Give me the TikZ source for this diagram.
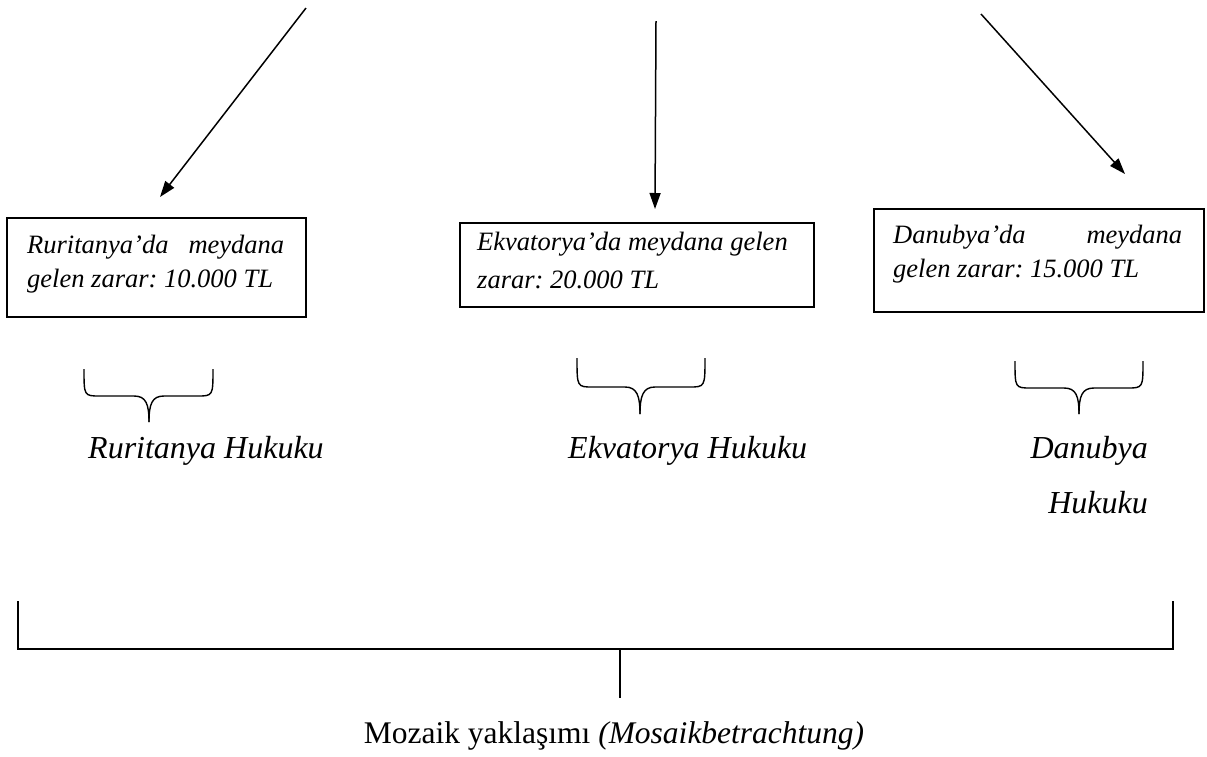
\documentclass[tikz,border=0pt]{standalone}
\usepackage{fontspec}
\setmainfont{Liberation Serif}
\usetikzlibrary{arrows.meta}
\frenchspacing
\begin{document}
\begin{tikzpicture}[x=1pt,y=-1pt,
  arr/.style={line width=1.5pt,-{Triangle[length=16pt,width=11pt]}},
  boxframe/.style={draw,line width=1.8pt,inner sep=0pt,anchor=north west},
  boxtxt/.style={inner sep=0pt,anchor=base west,font=\fontsize{26.5}{34}\selectfont\itshape\frenchspacing},
  lbl/.style={inner sep=0pt,font=\fontsize{32}{40}\selectfont\itshape},
  brc/.style={line width=1.4pt},
  brk/.style={line width=1.8pt}]
\useasboundingbox (0,0) rectangle (1207,756);
% arrows
\coordinate (a1s) at (306,8);   \coordinate (a1e) at (160,197);
\coordinate (a2s) at (656,21);  \coordinate (a2e) at (655,209);
\coordinate (a3s) at (981,14);  \coordinate (a3e) at (1125,174);
\draw[arr] (a1s) -- (a1e);
\draw[arr] (a2s) -- (a2e);
\draw[arr] (a3s) -- (a3e);
% boxes
\node[boxframe,minimum width=299pt,minimum height=99pt] (b1) at (6,217) {};
\node[boxtxt] (b1l1) at (27,253) {\makebox[257pt][s]{Ruritanya’da meydana}};
\node[boxtxt] (b1l2) at (27,287) {gelen zarar: 10.000 TL};
\node[boxframe,minimum width=354pt,minimum height=84pt] (b2) at (459,222) {};
\node[boxtxt] (b2l1) at (477,250) {Ekvatorya’da meydana gelen};
\node[boxtxt] (b2l2) at (477,288) {zarar: 20.000 TL};
\node[boxframe,minimum width=330pt,minimum height=103pt] (b3) at (873,208) {};
\node[boxtxt] (b3l1) at (893,243) {\makebox[289pt][s]{Danubya’da meydana}};
\node[boxtxt] (b3l2) at (893,277) {gelen zarar: 15.000 TL};
% braces
\draw[brc] (84,369) .. controls (84,396) .. (100,396) -- (134,396) .. controls (146,396) and (149,404) .. (149,422);
\draw[brc] (213,369) .. controls (213,396) .. (197,396) -- (164,396) .. controls (152,396) and (149,404) .. (149,422);
\draw[brc] (577,358) .. controls (577,387) .. (593,387) -- (625,387) .. controls (637,387) and (640,396) .. (640,414);
\draw[brc] (705,358) .. controls (705,387) .. (689,387) -- (655,387) .. controls (643,387) and (640,396) .. (640,414);
\draw[brc] (1015,361) .. controls (1015,388) .. (1031,388) -- (1064,388) .. controls (1076,388) and (1079,396) .. (1079,414);
\draw[brc] (1143,361) .. controls (1143,388) .. (1127,388) -- (1094,388) .. controls (1082,388) and (1079,396) .. (1079,414);
% labels
\node[lbl,anchor=base west] (l1) at (88,458) {Ruritanya Hukuku};
\node[lbl,anchor=base west] (l2) at (568,458) {Ekvatorya Hukuku};
\node[lbl,anchor=base east] (l3a) at (1148,458) {Danubya};
\node[lbl,anchor=base east] (l3b) at (1148,513) {Hukuku};
% bottom bracket
\coordinate (kl) at (18,601); \coordinate (kr) at (1173,601);
\coordinate (kc) at (620,649); \coordinate (kd) at (620,698);
\draw[brk] (kl) -- (kl |- kc) -- (kr |- kc) -- (kr);
\draw[brk] (kc) -- (kd);
\node[inner sep=0pt,anchor=base,font=\fontsize{31.5}{38}\selectfont] (moz) at (614,743) {Mozaik yaklaşımı \textit{(Mosaikbetrachtung)}};
\end{tikzpicture}
\end{document}
